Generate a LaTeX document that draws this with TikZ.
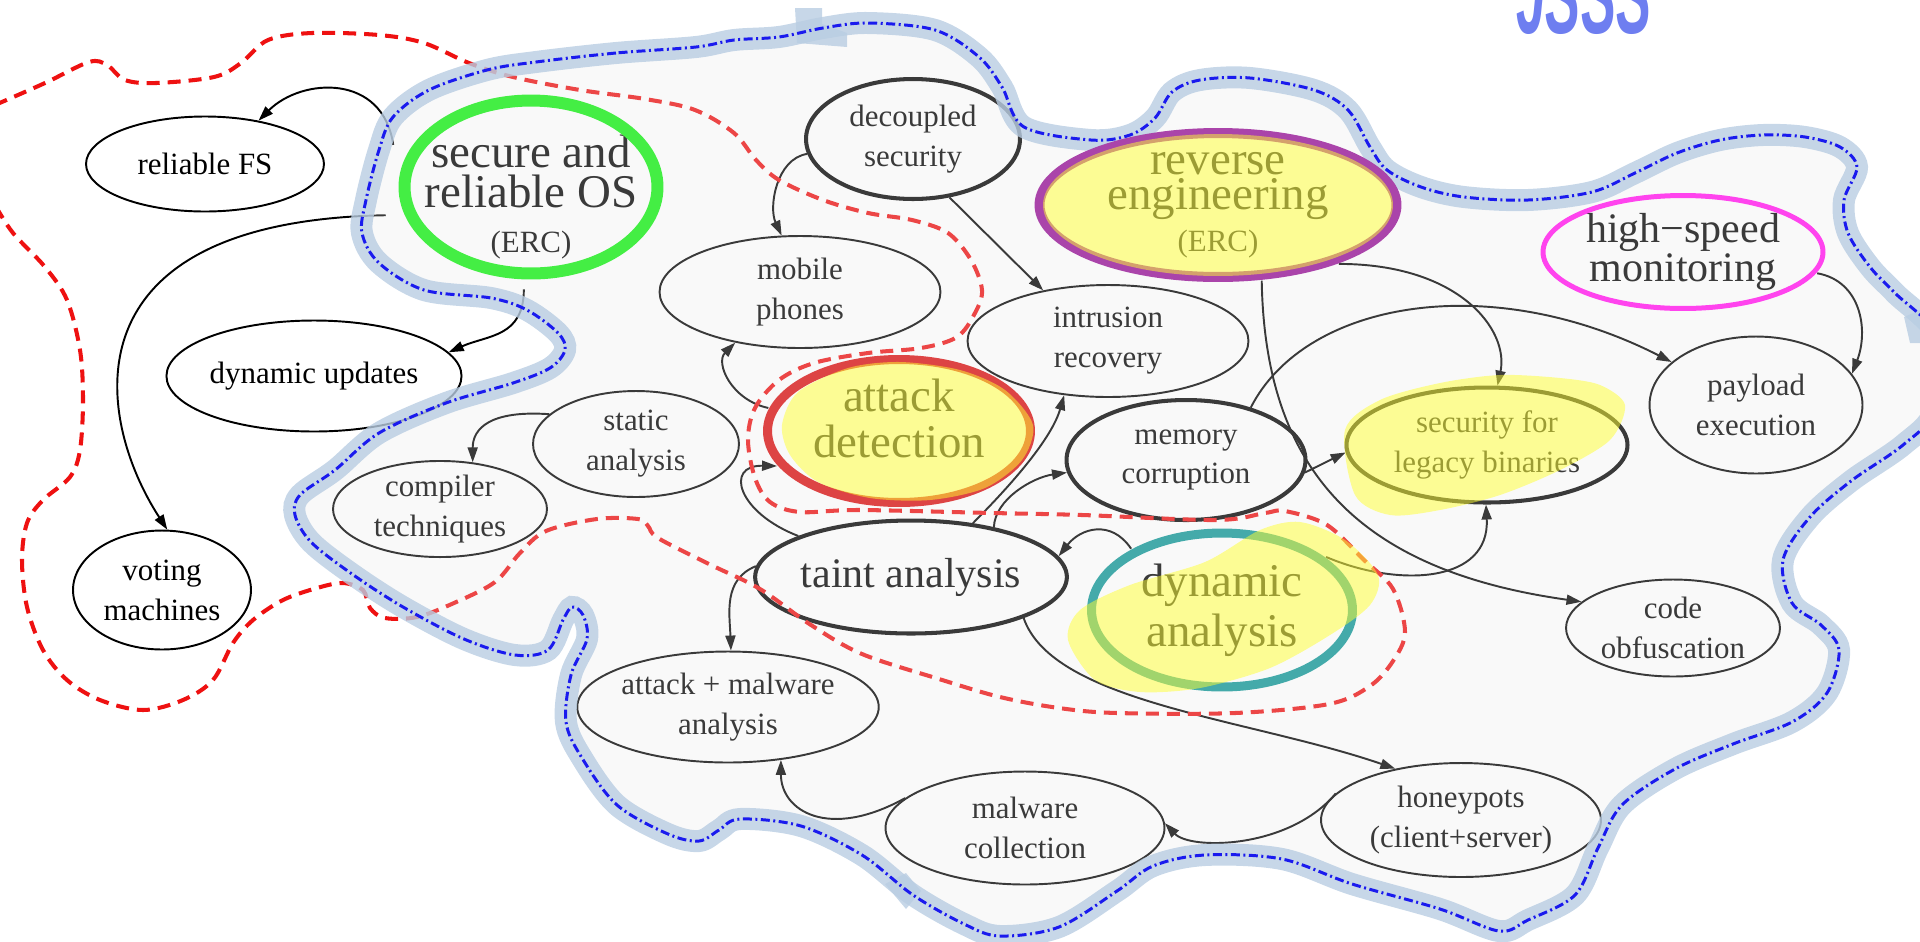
\documentclass[tikz,border=0pt]{standalone}
\usepackage{fontspec}
\setmainfont{Liberation Serif}
\newfontfamily\logofont{Liberation Sans}
\usetikzlibrary{shapes.geometric,arrows.meta}

\definecolor{veil}{HTML}{E8E8E8}
\definecolor{bandblue}{HTML}{B9CDE2}
\definecolor{dashblue}{HTML}{1A1AEE}
\definecolor{zonered}{HTML}{EE1111}
\definecolor{ringgreen}{HTML}{44EE44}
\definecolor{ringred}{HTML}{DD4444}
\definecolor{ringpurple}{HTML}{AA44AA}
\definecolor{ringteal}{HTML}{44AAAA}
\definecolor{ringpink}{HTML}{FF44EE}
\definecolor{marker}{HTML}{FFFF30}
\definecolor{logoblue}{HTML}{6E7EF0}

\newcommand\cloudline{plot[smooth cycle, tension=0.55] coordinates {
  (696,47) (616,53) (536,62) (487,70) (429,90) (393,117) (379,150) (366,200)
  (362,233) (379,263) (424,290) (491,298) (527,310) (558,333) (565,350)
  (550,368) (513,383) (446,403) (379,433) (335,470) (300,495) (295,515)
  (311,542) (352,574) (403,607) (464,639) (515,655) (548,650) (563,620)
  (572,607) (583,615) (587,639) (571,675) (566,722) (582,758) (617,805)
  (668,834) (699,841) (719,830) (740,819) (801,826) (862,855) (913,895)
  (964,924) (1000,936) (1059,927) (1117,891) (1153,866) (1205,855)
  (1282,859) (1352,884) (1440,909) (1499,931) (1528,920) (1575,895)
  (1598,848) (1622,805) (1675,769) (1733,744) (1792,722) (1827,693)
  (1839,650) (1821,625) (1792,603) (1783,560) (1810,517) (1851,481)
  (1903,445) (1935,410) (1940,340) (1895,293) (1870,267) (1848,233)
  (1844,200) (1857,167) (1840,147) (1805,137) (1763,135) (1720,140)
  (1677,153) (1635,173) (1592,192) (1528,200) (1464,197) (1421,187)
  (1387,170) (1370,147) (1348,110) (1314,90) (1250,78) (1200,80)
  (1172,92) (1155,118) (1130,135) (1091,140) (1024,127) (1002,87)
  (979,57) (935,30) (868,23) (823,28) (779,37) (734,40)}}

\tikzset{
  topic/.style={ellipse, draw, line width=1.1pt, inner sep=0pt, align=center,
    font=\fontsize{17.6}{22.7}\selectfont},
  hub/.style={topic, line width=2.3pt},
  dims/.style 2 args={minimum width=#1cm, minimum height=#2cm},
  link/.style={-{Triangle[length=0.3cm,width=0.2cm]}, line width=1.1pt},
  ring/.style={draw=#1, line width=0.18cm},
  hilite/.style={fill=marker, fill opacity=0.5},
}

\begin{document}
\begin{tikzpicture}[x=0.02cm, y=-0.02cm]
\useasboundingbox (0,0) rectangle (1920,941);

\node (relfs) [topic, dims={4.76}{1.9}] at (205,164) {reliable FS};
\node (secos) [topic, draw=none, dims={5.3}{3.7}, font=\fontsize{26.7}{22.8}\selectfont] at (531,187)
  {\rule{0pt}{29.6pt}secure and\\reliable OS\\[2.8pt]{\fontsize{17.6}{17.6}\selectfont(ERC)}};
\node (dynupd) [topic, dims={5.6}{2.22}] at (314,376) {dynamic updates};
\node (voting) [topic, dims={3.56}{2.38}] at (162,590) {voting\\machines};
\node (decoup) [hub, dims={4.28}{2.4}] at (913,139) {decoupled\\security};
\node (mobile) [topic, dims={5.62}{2.24}] at (800,292) {mobile\\phones};
\node (revers) [topic, draw=none, dims={7.34}{3.08}, font=\fontsize{26.7}{19.8}\selectfont] at (1218,205)
  {reverse\\engineering\\[4.1pt]{\fontsize{17.6}{17.6}\selectfont(ERC)}};
\node (attack) [topic, draw=none, dims={5.44}{3.04}, font=\fontsize{26.7}{26.2}\selectfont] at (899,431)
  {attack\\detection\rule[-14.8pt]{0pt}{0pt}};
\node (intrus) [topic, dims={5.62}{2.24}] at (1108,341) {intrusion\\recovery};
\node (memcor) [hub, dims={4.78}{2.4}] at (1186,460) {memory\\corruption};
\node (taint) [hub, dims={5.6}{2.26}, font=\fontsize{23.9}{23.9}\selectfont] at (911,577) {taint analysis};
\node (dynan) [topic, draw=none, dims={5.4}{3.26}, font=\fontsize{26.7}{28.4}\selectfont] at (1222,610)
  {dynamic\\analysis};
\node (legacy) [hub, dims={5.62}{2.3}] at (1487,445) {security for\\legacy binaries};
\node (payload) [topic, dims={4.26}{2.74}] at (1756,405) {payload\\execution};
\node (hsm) [topic, draw=none, dims={5.7}{2.36}, font=\fontsize{23.9}{22.7}\selectfont] at (1683,252)
  {high−speed\\monitoring};
\node (codeob) [topic, dims={4.28}{1.94}] at (1673,628) {code\\obfuscation};
\node (honey) [topic, dims={5.6}{2.28}] at (1461,820) {honeypots\\(client+server)};
\node (malcol) [topic, dims={5.58}{2.26}] at (1025,828) {malware\\collection};
\node (atkmal) [topic, dims={5.62}{2.22}] at (728,707) {attack + malware\\analysis};
\node (compil) [topic, dims={4.28}{1.9}] at (440,509) {compiler\\techniques};
\node (static) [topic, dims={4.12}{2.12}] at (636,444) {static\\analysis};

\path[link]
  (secos.163) edge [out=98, in=45, out distance=1.45cm, in distance=1.22cm] (relfs.39)
  (secos.191) edge [out=181, in=123, out distance=6.48cm, in distance=2.65cm] (voting.85)
  (secos.266) edge [out=270, in=24, out distance=0.96cm, in distance=0.85cm] (dynupd.10)
  (decoup.188) edge [out=189, in=115, out distance=0.63cm, in distance=0.62cm] (mobile.108)
  (decoup.302) edge (intrus.142)
  (attack.170) edge [out=168, in=225, out distance=0.76cm, in distance=0.57cm] (mobile.218)
  (taint.160) edge [out=159, in=179, out distance=1.3cm, in distance=1.06cm] (attack.196)
  (taint.41) edge [out=45, in=254, out distance=1.13cm, in distance=0.89cm] (intrus.231)
  (taint.31) edge [out=88, in=188, out distance=0.56cm, in distance=0.69cm] (memcor.186)
  (dynan.146) edge [out=124, in=52, out distance=0.72cm, in distance=0.71cm] (taint.8)
  (memcor.354) edge (legacy.183)
  (memcor.39) edge [out=63, in=153, out distance=2.4cm, in distance=4.08cm] (payload.153)
  (revers.334) edge [out=0, in=78, out distance=2.42cm, in distance=1.13cm] (legacy.80)
  (revers.300) edge [out=271, in=172, out distance=3.8cm, in distance=4.5cm] (codeob.164)
  (dynan.27) edge [out=337, in=273, out distance=1.61cm, in distance=1.56cm] (legacy.269)
  (hsm.351) edge [out=350, in=69, out distance=0.89cm, in distance=0.94cm] (payload.18)
  (static.161) edge [out=176, in=90, out distance=1.2cm, in distance=0.67cm] (compil.55)
  (taint.176) edge [out=202, in=92, out distance=0.71cm, in distance=0.74cm] (atkmal.87)
  (taint.340) edge [out=289, in=161, out distance=1.8cm, in distance=3.09cm] (honey.142)
  (malcol.166) edge [out=209, in=270, out distance=1.75cm, in distance=1.02cm] (atkmal.315)
  (honey.168) edge [out=230, in=313, out distance=1.46cm, in distance=0.74cm] (malcol.2);

% red zone
\draw[zonered, line width=2.3pt, dash pattern=on 0.26cm off 0.16cm] plot[smooth, tension=0.55] coordinates {
  (-5,105) (45,83) (89,62) (107,65) (125,80) (156,83) (214,77) (241,63) (268,40)
  (312,33) (379,35) (424,43) (469,63) (513,77) (580,90) (645,99) (695,110) (734,133)
  (756,160) (779,180) (823,200) (868,213) (912,220) (948,233) (971,260) (982,290)
  (975,313) (957,337) (921,348) (868,353) (814,363) (779,380) (755,408) (748,440)
  (755,478) (770,502) (800,512) (859,510) (992,513) (1082,515) (1216,520)
  (1265,513) (1285,511) (1327,525) (1364,560) (1393,589) (1405,632) (1393,661)
  (1370,686) (1329,704) (1235,713) (1117,713) (1059,708) (1000,697) (939,679)
  (862,654) (811,625) (760,589) (709,564) (658,538) (648,526) (638,519) (597,519)
  (546,531) (520,553) (495,582) (454,603) (417,617) (385,618) (370,608) (363,590)
  (343,583) (317,588) (283,600) (253,620) (233,643) (213,680) (183,700) (143,710)
  (100,700) (67,680) (43,650) (27,607) (22,560) (27,523) (43,500) (70,477) (80,450)
  (83,400) (80,350) (67,300) (45,267) (13,233) (-5,205)};

% cloud
\fill[veil, fill opacity=0.25] \cloudline;
\draw[bandblue, line width=0.44cm, draw opacity=0.8] \cloudline;
\fill[bandblue, fill opacity=0.8] (795,8) -- (822,8) -- (822,24) -- (847,33) -- (847,47) -- (797,43) -- cycle;
\fill[bandblue, fill opacity=0.8] (885,884) -- (906,873) -- (921,891) -- (906,909) -- cycle;
\fill[bandblue, fill opacity=0.8] (1904,317) -- (1920,310) -- (1920,343) -- (1910,343) -- cycle;
\draw[dashblue, line width=1.7pt, dash pattern=on 0.18cm off 0.07cm on 0.04cm off 0.07cm] \cloudline;

% rings
\draw[ring=ringgreen, line width=0.24cm] (secos.center) ellipse [x radius=2.53cm, y radius=1.73cm];
\draw[ring=ringpurple, line width=0.2cm] (revers.center) ellipse [x radius=3.57cm, y radius=1.44cm];
\draw[ring=ringred] (attack.center) ellipse [x radius=2.63cm, y radius=1.43cm];
\draw[ring=ringteal] (dynan.center) ellipse [x radius=2.61cm, y radius=1.54cm];
\draw[ring=ringpink, line width=0.1cm] (hsm.center) ellipse [x radius=2.8cm, y radius=1.13cm];

% marker
\fill[hilite] plot[smooth cycle] coordinates {(782,425) (798,392) (848,368) (900,362) (960,370)
  (1005,390) (1033,425) (1022,460) (985,488) (930,500) (870,498) (818,482) (790,455)};
\fill[hilite] (revers.center) ellipse [x radius=3.5cm, y radius=1.42cm];
\fill[hilite] plot[smooth cycle] coordinates {(1345,430) (1380,400) (1440,383) (1500,375)
  (1560,378) (1600,385) (1625,405) (1610,440) (1560,470) (1500,495) (1440,510) (1390,515) (1355,495)};
\fill[hilite] plot[smooth cycle] coordinates {(1068,640) (1080,610) (1130,585) (1205,562)
  (1260,530) (1300,522) (1345,540) (1378,575) (1370,605) (1330,635) (1270,668) (1200,688)
  (1140,692) (1095,680)};

\node (logo) [anchor=base, inner sep=0pt, text=logoblue, xscale=0.5, transform shape,
  font=\logofont\bfseries\itshape\fontsize{60}{60}\selectfont] at (1584,33) {JSSS};
\end{tikzpicture}
\end{document}
